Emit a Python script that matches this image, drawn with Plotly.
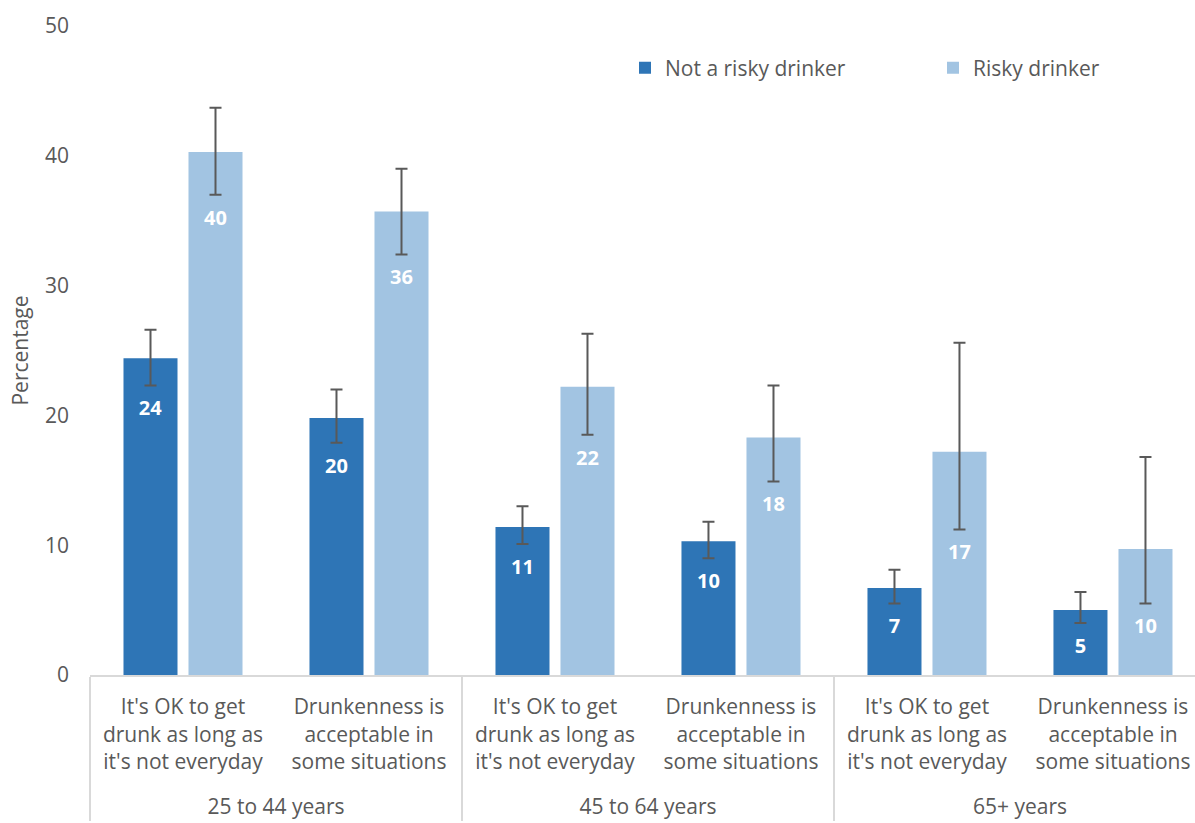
import plotly.graph_objects as go

# Age bands (outer level) and attitude statements (inner level)
age_groups = ["25 to 44 years", "25 to 44 years",
              "45 to 64 years", "45 to 64 years",
              "65+ years", "65+ years"]
statements = ["It's OK to get<br>drunk as long as<br>it's not everyday",
              "Drunkenness is<br>acceptable in<br>some situations"] * 3

# Percentages with 95% confidence bounds
not_risky = [24.4, 19.8, 11.4, 10.3, 6.7, 5.0]
not_risky_upper = [26.6, 22.0, 13.0, 11.8, 8.1, 6.4]
not_risky_lower = [22.3, 17.9, 10.1, 9.0, 5.5, 4.0]

risky = [40.3, 35.7, 22.2, 18.3, 17.2, 9.7]
risky_upper = [43.7, 39.0, 26.3, 22.3, 25.6, 16.8]
risky_lower = [37.0, 32.4, 18.5, 14.9, 11.2, 5.5]

series_names = ["Not a risky drinker", "Risky drinker"]
y_ticks = [0, 10, 20, 30, 40, 50]

DARK = "#2E75B6"
LIGHT = "#A2C4E2"
GREY = "#595959"
AXIS_GREY = "#D9D9D9"
FONT = "Open Sans"
FS = 21
LABEL_DROP = 0.45  # gap between lower CI bound and the value label, in axis units

# trailing blank line leaves room between statement text and age band label
x = [age_groups, [s + "<br> " for s in statements]]

fig = go.Figure()

for name, vals, up, lo, color, grp, leg in [
    (series_names[0], not_risky, not_risky_upper, not_risky_lower, DARK, "a", "legend"),
    (series_names[1], risky, risky_upper, risky_lower, LIGHT, "b", "legend2"),
]:
    fig.add_trace(go.Bar(
        x=x, y=vals, name=name, offsetgroup=grp, legend=leg,
        marker=dict(color=color, line=dict(width=0)),
        error_y=dict(type="data", symmetric=False,
                     array=[u - v for u, v in zip(up, vals)],
                     arrayminus=[v - l for v, l in zip(vals, lo)],
                     color=GREY, thickness=2, width=6),
    ))

# Value labels sit just beneath the lower end of each error bar
for vals, lo, grp in [(not_risky, not_risky_lower, "a"), (risky, risky_lower, "b")]:
    fig.add_trace(go.Bar(
        x=x, y=[l - LABEL_DROP for l in lo], offsetgroup=grp,
        marker=dict(color="rgba(0,0,0,0)", line=dict(width=0)),
        text=[f"{round(v)}" for v in vals],
        textposition="inside", insidetextanchor="end", textangle=0,
        constraintext="none",
        insidetextfont=dict(family=FONT, size=20, color="white", weight=700),
        showlegend=False, hoverinfo="skip",
    ))

legend_style = dict(orientation="h", xref="container", xanchor="left",
                    y=0.935, yanchor="middle",
                    font=dict(family=FONT, size=FS, color=GREY),
                    bgcolor="rgba(0,0,0,0)")

fig.update_layout(
    width=1195, height=823,
    margin=dict(l=90, r=0, t=26, b=148, autoexpand=False),
    paper_bgcolor="white", plot_bgcolor="white",
    barmode="group", bargap=0.301, bargroupgap=0.169,
    font=dict(family=FONT, size=FS, color=GREY),
    legend=dict(x=625 / 1195, **legend_style),
    legend2=dict(x=933 / 1195, **legend_style),
    showlegend=True,
)

fig.update_xaxes(
    type="multicategory", range=[-0.5, 5.441],
    showline=True, linecolor=AXIS_GREY, linewidth=2,
    showgrid=False, ticks="", showdividers=True,
    dividercolor=AXIS_GREY, dividerwidth=2,
    ticklabelstandoff=12,
    tickfont=dict(family=FONT, size=FS, color=GREY),
)

fig.update_yaxes(
    range=[0, 50], tickvals=y_ticks, showgrid=False, zeroline=False,
    showline=False, ticks="", ticklabelstandoff=20,
    tickfont=dict(family=FONT, size=FS, color=GREY),
    title=dict(text="Percentage", font=dict(family=FONT, size=FS, color=GREY), standoff=10),
)

fig.write_html("out.html")
